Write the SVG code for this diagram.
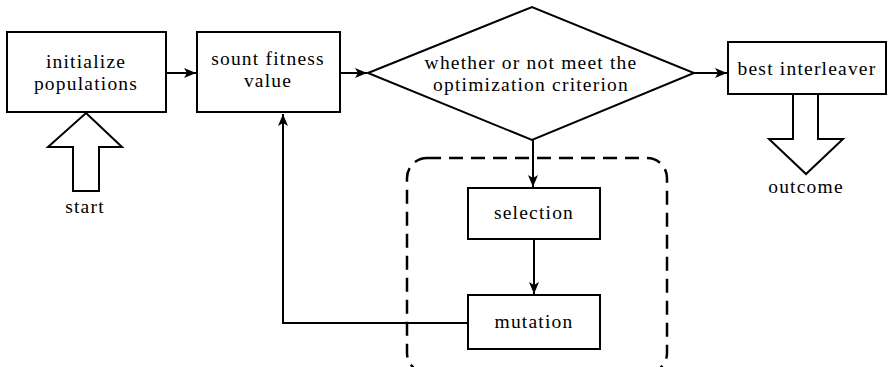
<svg xmlns="http://www.w3.org/2000/svg" width="891" height="367" viewBox="0 0 891 367" font-family="'Liberation Serif', 'Times New Roman', serif" font-size="19">
<style>
.box{fill:#fff;stroke:#000;stroke-width:2}
.ln{fill:none;stroke:#000;stroke-width:2}
.bigarrow{fill:#fff;stroke:#000;stroke-width:2;stroke-linejoin:miter}
.t{font-family:"Liberation Serif","Times New Roman",serif;font-size:19.5px;letter-spacing:1.2px;fill:#000;text-anchor:middle}
</style>
<defs>
<marker id="ah" viewBox="0 0 12 10" refX="12" refY="5" markerWidth="12" markerHeight="10" markerUnits="userSpaceOnUse" orient="auto">
<path d="M0,0 L12,5 L0,10 L3,5 Z" fill="#000"/>
</marker>
</defs>
<rect width="891" height="367" fill="#fff"/>
<g id="connectors">
<line class="ln" x1="166" y1="73" x2="196" y2="73" marker-end="url(#ah)"/>
<line class="ln" x1="340" y1="73" x2="367" y2="73" marker-end="url(#ah)"/>
<line class="ln" x1="694" y1="73" x2="727" y2="73" marker-end="url(#ah)"/>
<line class="ln" x1="533" y1="140" x2="533" y2="187" marker-end="url(#ah)"/>
<line class="ln" x1="534" y1="239" x2="534" y2="294" marker-end="url(#ah)"/>
<polyline class="ln" points="468,323 283,323 283,114" marker-end="url(#ah)"/>
</g>
<g id="group-loop">
<rect x="407" y="158" width="260" height="215" rx="20" fill="none" stroke="#000" stroke-width="2.5" stroke-dasharray="14,8"/>
</g>
<g id="init">
<rect class="box" x="7" y="32" width="159" height="80"/>
<text class="t" x="86" y="68">initialize</text>
<text class="t" x="86" y="90">populations</text>
</g>
<g id="start">
<polygon class="bigarrow" points="86,113 122,147 99,147 99,191 73,191 73,147 48,147"/>
<text class="t" x="85" y="213">start</text>
</g>
<g id="fitness">
<rect class="box" x="197" y="32" width="143" height="80"/>
<text class="t" x="268" y="65">sount fitness</text>
<text class="t" x="268" y="87">value</text>
</g>
<g id="criterion">
<polygon class="box" points="368,73 532,7 694,73 532,140"/>
<text class="t" x="531" y="69">whether or not meet the</text>
<text class="t" x="531" y="91">optimization criterion</text>
</g>
<g id="best">
<rect class="box" x="728" y="42" width="158" height="52"/>
<text class="t" x="807" y="75">best interleaver</text>
</g>
<g id="outcome">
<polygon class="bigarrow" points="793,94 793,139 769,139 806,174 843,139 818,139 818,94"/>
<text class="t" x="806" y="193">outcome</text>
</g>
<g id="selection">
<rect class="box" x="468" y="188" width="132" height="51"/>
<text class="t" x="534" y="219">selection</text>
</g>
<g id="mutation">
<rect class="box" x="468" y="295" width="132" height="54"/>
<text class="t" x="534" y="328">mutation</text>
</g>
</svg>
